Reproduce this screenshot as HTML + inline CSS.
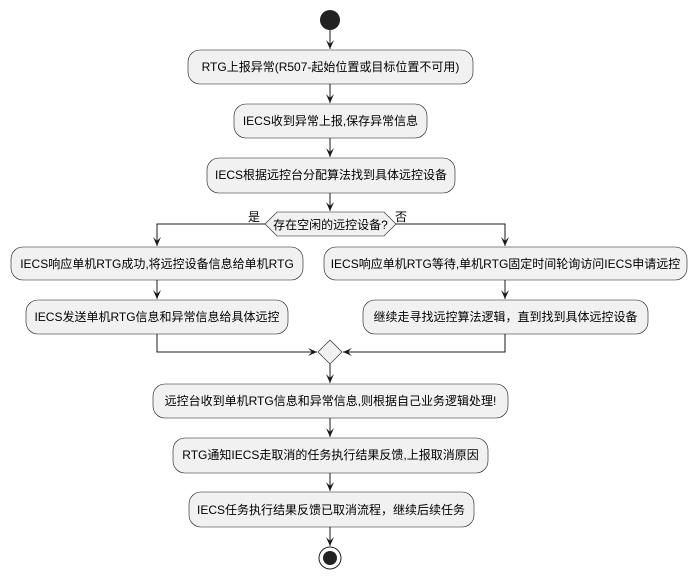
<!DOCTYPE html>
<html><head><meta charset="utf-8">
<style>
html,body{margin:0;padding:0;background:#fff;}
svg{display:block;}
text{font-family:"Liberation Sans","Noto Sans CJK SC",sans-serif;font-size:12px;fill:#000;}
.b{fill:#F1F1F1;stroke:#181818;stroke-width:0.6;}
.l{stroke:#181818;stroke-width:1;fill:none;}
.a{fill:#181818;stroke:none;}
</style></head><body>
<svg width="693" height="579" viewBox="0 0 693 579" xmlns="http://www.w3.org/2000/svg">
<defs>
<marker id="ar" markerWidth="10" markerHeight="10" refX="9" refY="5" orient="auto" markerUnits="userSpaceOnUse">
<path d="M0,1 L9,5 L0,9 L4,5 Z" fill="#181818"/>
</marker>
</defs>
<!-- start -->
<circle cx="330" cy="20" r="10" fill="#222"/>
<line class="l" x1="330" y1="30" x2="330" y2="49" marker-end="url(#ar)"/>
<!-- box1 -->
<rect class="b" x="188" y="50" width="285" height="34" rx="12"/>
<text x="330.5" y="71" text-anchor="middle">RTG上报异常(R507-起始位置或目标位置不可用)</text>
<line class="l" x1="330" y1="84" x2="330" y2="103" marker-end="url(#ar)"/>
<rect class="b" x="234" y="104" width="193" height="34" rx="12"/>
<text x="330.5" y="125" text-anchor="middle">IECS收到异常上报,保存异常信息</text>
<line class="l" x1="330" y1="138" x2="330" y2="157" marker-end="url(#ar)"/>
<rect class="b" x="207" y="158" width="248" height="35" rx="12"/>
<text x="331" y="179" text-anchor="middle">IECS根据远控台分配算法找到具体远控设备</text>
<line class="l" x1="330" y1="193" x2="330" y2="211" marker-end="url(#ar)"/>
<!-- decision -->
<polygon class="b" points="265,224 277,212 384,212 396,224 384,236 277,236"/>
<text x="330.5" y="229" text-anchor="middle">存在空闲的远控设备?</text>
<text x="254" y="221" text-anchor="middle">是</text>
<text x="401" y="221" text-anchor="middle">否</text>
<polyline class="l" points="265,224 157,224 157,246" marker-end="url(#ar)"/>
<polyline class="l" points="396,224 505,224 505,246" marker-end="url(#ar)"/>
<!-- left branch -->
<rect class="b" x="11" y="247" width="292" height="33" rx="12"/>
<text x="157" y="268" text-anchor="middle">IECS响应单机RTG成功,将远控设备信息给单机RTG</text>
<line class="l" x1="157" y1="280" x2="157" y2="299" marker-end="url(#ar)"/>
<rect class="b" x="26" y="300" width="262" height="34" rx="12"/>
<text x="157" y="321" text-anchor="middle">IECS发送单机RTG信息和异常信息给具体远控</text>
<polyline class="l" points="157,334 157,352 317,352" marker-end="url(#ar)"/>
<!-- right branch -->
<rect class="b" x="324" y="247" width="363" height="33" rx="12"/>
<text x="505.5" y="268" text-anchor="middle">IECS响应单机RTG等待,单机RTG固定时间轮询访问IECS申请远控</text>
<line class="l" x1="505" y1="280" x2="505" y2="299" marker-end="url(#ar)"/>
<rect class="b" x="363" y="300" width="285" height="34" rx="12"/>
<text x="505.5" y="321" text-anchor="middle">继续走寻找远控算法逻辑，直到找到具体远控设备</text>
<polyline class="l" points="505,334 505,352 343,352" marker-end="url(#ar)"/>
<!-- merge -->
<polygon class="b" points="330,340 342,352 330,364 318,352"/>
<line class="l" x1="330" y1="364" x2="330" y2="383" marker-end="url(#ar)"/>
<rect class="b" x="153" y="384" width="355" height="34" rx="12"/>
<text x="330.5" y="405" text-anchor="middle">远控台收到单机RTG信息和异常信息,则根据自己业务逻辑处理!</text>
<line class="l" x1="330" y1="418" x2="330" y2="437" marker-end="url(#ar)"/>
<rect class="b" x="173" y="438" width="315" height="35" rx="12"/>
<text x="330.5" y="459" text-anchor="middle">RTG通知IECS走取消的任务执行结果反馈,上报取消原因</text>
<line class="l" x1="330" y1="473" x2="330" y2="491" marker-end="url(#ar)"/>
<rect class="b" x="189" y="492" width="285" height="35" rx="12"/>
<text x="331" y="514" text-anchor="middle">IECS任务执行结果反馈已取消流程，继续后续任务</text>
<line class="l" x1="330" y1="527" x2="330" y2="546" marker-end="url(#ar)"/>
<!-- end -->
<circle cx="330" cy="558" r="11" fill="#fff" stroke="#222" stroke-width="1"/>
<circle cx="330" cy="558" r="7" fill="#222"/>
</svg>
</body></html>
